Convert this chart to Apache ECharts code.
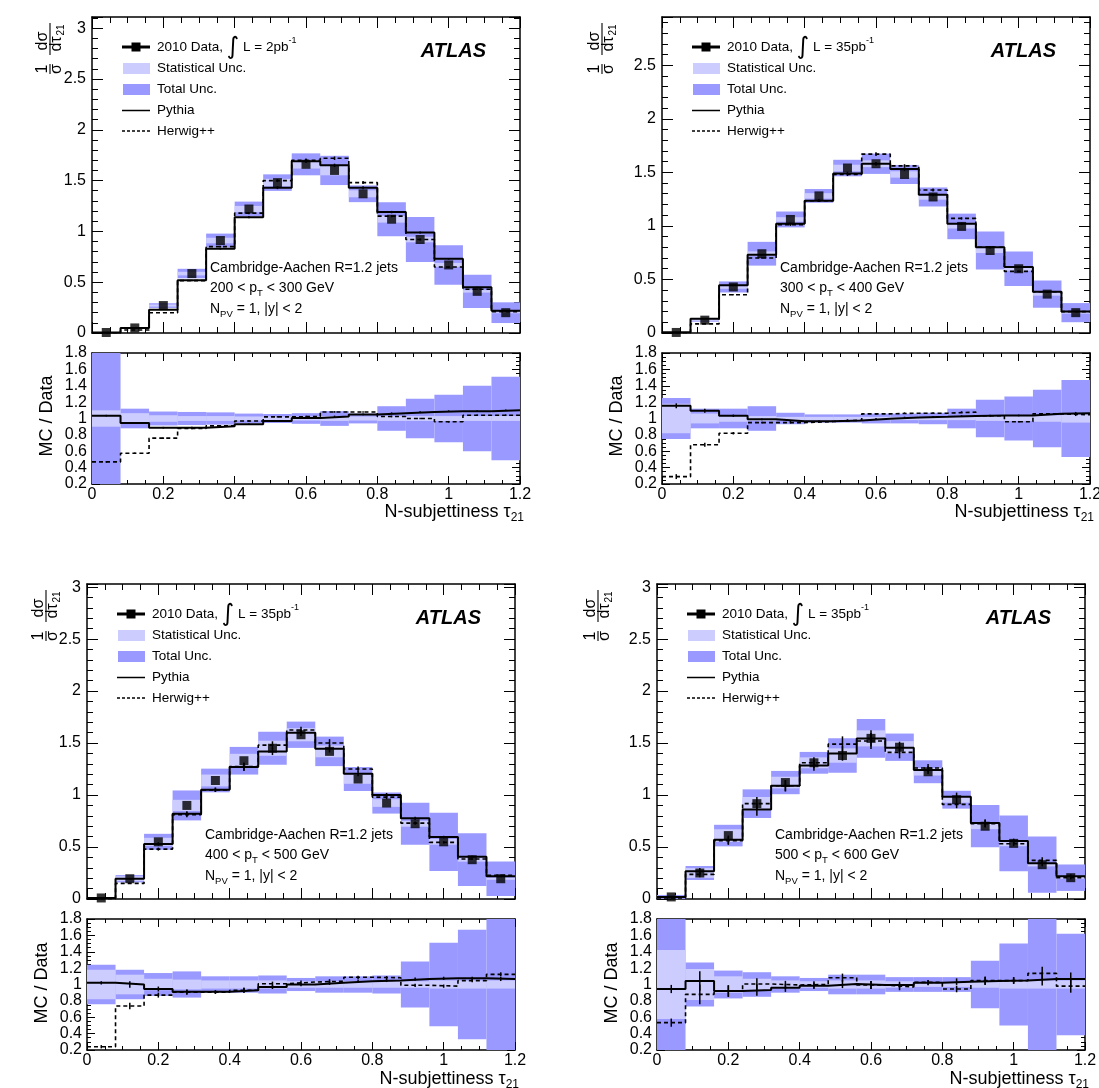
<!DOCTYPE html>
<html><head><meta charset="utf-8">
<script src="https://cdn.jsdelivr.net/npm/echarts@6/dist/echarts.min.js"></script>
<style>html,body{margin:0;padding:0;background:#fff}#c{width:1099px;height:1088px}</style>
</head><body><div id="c"></div>
<script>
// ---------------- DATA ----------------
const edges = [0, 0.08, 0.16, 0.24, 0.32, 0.40, 0.48, 0.56, 0.64, 0.72, 0.80, 0.88, 0.96, 1.04, 1.12, 1.20];
const centers = [0.04, 0.12, 0.20, 0.28, 0.36, 0.44, 0.52, 0.60, 0.68, 0.76, 0.84, 0.92, 1.00, 1.08, 1.16];
const ptRanges = ['200 < p', '300 < p', '400 < p', '500 < p'];
const ptUpper = [' < 300 GeV', ' < 400 GeV', ' < 500 GeV', ' < 600 GeV'];
const lumiLabels = [' L = 2pb', ' L = 35pb', ' L = 35pb', ' L = 35pb'];

// panel 1: 200 < pT < 300 GeV
const data1 = [0.005, 0.05, 0.27, 0.585, 0.91, 1.22, 1.48, 1.66, 1.60, 1.37, 1.12, 0.92, 0.67, 0.41, 0.20];
const pythia1 = [0.005, 0.05, 0.23, 0.52, 0.83, 1.14, 1.43, 1.69, 1.65, 1.43, 1.19, 0.99, 0.73, 0.45, 0.22];
const herwig1 = [0.003, 0.03, 0.20, 0.515, 0.85, 1.18, 1.50, 1.70, 1.72, 1.48, 1.15, 0.92, 0.65, 0.43, 0.21];
const pythiaRatio1 = [1.035, 0.945, 0.888, 0.888, 0.905, 0.93, 0.97, 1.005, 1.025, 1.05, 1.065, 1.08, 1.09, 1.09, 1.10];
const herwigRatio1 = [0.47, 0.575, 0.76, 0.88, 0.91, 0.97, 1.02, 1.025, 1.08, 1.08, 1.025, 1.0, 0.96, 1.04, 1.04];
const statUnc1 = [0.10, 0.065, 0.04, 0.03, 0.03, 0.025, 0.025, 0.025, 0.03, 0.025, 0.03, 0.03, 0.03, 0.03, 0.03];
const totUnc1 = [0.95, 0.12, 0.085, 0.08, 0.075, 0.06, 0.055, 0.065, 0.09, 0.06, 0.15, 0.24, 0.29, 0.40, 0.51];
const mcErr1 = [0.01, 0.01, 0.01, 0.01, 0.01, 0.01, 0.01, 0.01, 0.01, 0.01, 0.01, 0.01, 0.01, 0.01, 0.01];

// panel 2: 300 < pT < 400 GeV
const data2 = [0.005, 0.12, 0.43, 0.74, 1.06, 1.28, 1.54, 1.58, 1.48, 1.27, 0.995, 0.77, 0.60, 0.363, 0.19];
const pythia2 = [0.006, 0.133, 0.445, 0.73, 1.02, 1.235, 1.49, 1.58, 1.53, 1.29, 1.02, 0.80, 0.615, 0.385, 0.20];
const herwig2 = [0.002, 0.085, 0.357, 0.70, 1.01, 1.235, 1.48, 1.67, 1.56, 1.335, 1.07, 0.80, 0.575, 0.385, 0.20];
const pythiaRatio2 = [1.155, 1.094, 1.033, 0.99, 0.967, 0.967, 0.975, 0.996, 1.012, 1.02, 1.03, 1.037, 1.037, 1.057, 1.065];
const herwigRatio2 = [0.29, 0.68, 0.82, 0.95, 0.95, 0.963, 0.98, 1.057, 1.065, 1.065, 1.078, 1.033, 0.96, 1.057, 1.045];
const statUnc2 = [0.18, 0.06, 0.04, 0.03, 0.02, 0.02, 0.02, 0.02, 0.02, 0.02, 0.02, 0.03, 0.03, 0.04, 0.05];
const totUnc2 = [0.25, 0.12, 0.12, 0.15, 0.07, 0.05, 0.05, 0.06, 0.06, 0.07, 0.12, 0.23, 0.27, 0.35, 0.47];
const mcErr2 = [0.03, 0.025, 0.015, 0.01, 0.01, 0.01, 0.01, 0.01, 0.01, 0.01, 0.01, 0.01, 0.01, 0.01, 0.015];

// panel 3: 400 < pT < 500 GeV
const data3 = [0.01, 0.195, 0.55, 0.90, 1.14, 1.33, 1.45, 1.58, 1.42, 1.154, 0.923, 0.724, 0.55, 0.378, 0.195];
const pythia3 = [0.01, 0.195, 0.53, 0.82, 1.05, 1.27, 1.42, 1.60, 1.445, 1.205, 1.0, 0.776, 0.596, 0.407, 0.218];
const herwig3 = [0.003, 0.15, 0.48, 0.81, 1.05, 1.275, 1.48, 1.625, 1.50, 1.25, 0.98, 0.73, 0.545, 0.385, 0.228];
const pythiaRatio3 = [1.02, 1.0, 0.945, 0.91, 0.91, 0.93, 0.97, 1.0, 1.02, 1.04, 1.05, 1.067, 1.075, 1.075, 1.067];
const herwigRatio3 = [0.24, 0.737, 0.87, 0.905, 0.905, 0.93, 1.01, 1.03, 1.04, 1.088, 1.083, 0.99, 0.98, 1.047, 1.124];
const statUnc3 = [0.18, 0.12, 0.07, 0.06, 0.05, 0.05, 0.05, 0.04, 0.04, 0.04, 0.04, 0.04, 0.05, 0.05, 0.05];
const totUnc3 = [0.24, 0.18, 0.14, 0.16, 0.10, 0.10, 0.11, 0.08, 0.10, 0.10, 0.11, 0.28, 0.51, 0.67, 0.85];
const mcErr3 = [0.02, 0.04, 0.03, 0.03, 0.02, 0.03, 0.025, 0.02, 0.025, 0.02, 0.02, 0.02, 0.02, 0.02, 0.025];

// panel 4: 500 < pT < 600 GeV
const data4 = [0.02, 0.25, 0.61, 0.917, 1.12, 1.31, 1.38, 1.545, 1.46, 1.224, 0.955, 0.70, 0.535, 0.33, 0.205];
const pythia4 = [0.02, 0.266, 0.57, 0.86, 1.09, 1.285, 1.40, 1.545, 1.455, 1.24, 0.984, 0.73, 0.558, 0.343, 0.22];
const herwig4 = [0.01, 0.237, 0.56, 0.917, 1.09, 1.31, 1.49, 1.52, 1.41, 1.26, 0.91, 0.724, 0.532, 0.372, 0.205];
const pythiaRatio4 = [0.945, 1.043, 0.92, 0.933, 0.96, 0.985, 1.006, 0.994, 0.994, 1.022, 1.035, 1.043, 1.05, 1.067, 1.067];
const herwigRatio4 = [0.534, 0.88, 0.92, 1.006, 0.994, 1.0, 1.083, 0.994, 0.97, 1.026, 0.945, 1.047, 1.047, 1.136, 0.98];
const statUnc4 = [0.42, 0.19, 0.10, 0.07, 0.05, 0.04, 0.05, 0.05, 0.04, 0.03, 0.03, 0.04, 0.05, 0.05, 0.05];
const totUnc4 = [0.95, 0.27, 0.17, 0.15, 0.10, 0.08, 0.12, 0.12, 0.09, 0.09, 0.09, 0.29, 0.50, 0.82, 0.62];
const mcErr4 = [0.05, 0.12, 0.07, 0.07, 0.05, 0.04, 0.05, 0.05, 0.04, 0.03, 0.04, 0.05, 0.04, 0.08, 0.08];

// ---------------- LAYOUT ----------------
const FONT = '"Liberation Sans", Arial, Helvetica, sans-serif';
const TOT = '#9999ff', STAT = '#ccccff';
const panels = [
  {data: data1, py: pythia1, hw: herwig1, pyR: pythiaRatio1, hwR: herwigRatio1, stat: statUnc1, tot: totUnc1, mc: mcErr1, ymax: 3.11, ox: 0, oy: 0, mainTop: 17, mainH: 316, ratioTop: 353, ytX: 50},
  {data: data2, py: pythia2, hw: herwig2, pyR: pythiaRatio2, hwR: herwigRatio2, stat: statUnc2, tot: totUnc2, mc: mcErr2, ymax: 2.95, ox: 570, oy: 0, mainTop: 17, mainH: 316, ratioTop: 353, ytX: 602},
  {data: data3, py: pythia3, hw: herwig3, pyR: pythiaRatio3, hwR: herwigRatio3, stat: statUnc3, tot: totUnc3, mc: mcErr3, ymax: 3.03, ox: -5, oy: 567, mainTop: 584, mainH: 315, ratioTop: 919, ytX: 46},
  {data: data4, py: pythia4, hw: herwig4, pyR: pythiaRatio4, hwR: herwigRatio4, stat: statUnc4, tot: totUnc4, mc: mcErr4, ymax: 3.03, ox: 565, oy: 567, mainTop: 584, mainH: 315, ratioTop: 919, ytX: 598}
];
const PW = 428, RH = 131;

const chart = echarts.init(document.getElementById('c'), null, {renderer: 'canvas'});
const grids = [], xAxes = [], yAxes = [], series = [], graphics = [];

function xAx(g, pos, showLabel, ratio) {
  return {type: 'value', gridIndex: g, position: pos, min: 0, max: 1.2, interval: 0.2,
    axisLine: {show: true, onZero: false, lineStyle: {color: '#000', width: 1.5}},
    axisTick: {show: true, inside: true, length: ratio ? 8 : 11, lineStyle: {color: '#000', width: 1}},
    minorTick: {show: true, splitNumber: 4, length: ratio ? 4 : 6, lineStyle: {color: '#000', width: 1}},
    splitLine: {show: false}, minorSplitLine: {show: false},
    axisLabel: {show: showLabel, fontSize: 16, color: '#000', fontFamily: FONT, margin: 3,
      formatter: v => String(+v.toFixed(2))}};
}
function yMainAx(g, pos, ymax, showLabel, interval, len, line) {
  return {type: 'value', gridIndex: g, position: pos, min: 0, max: ymax, interval: interval,
    axisLine: {show: line, onZero: false, lineStyle: {color: '#000', width: 1.5}},
    axisTick: {show: true, inside: true, length: len, lineStyle: {color: '#000', width: 1}},
    minorTick: {show: false}, splitLine: {show: false},
    axisLabel: {show: showLabel, fontSize: 16, color: '#000', fontFamily: FONT, margin: 6,
      formatter: v => (Math.abs(v * 2 - Math.round(v * 2)) < 1e-6 ? String(+v.toFixed(2)) : '')}};
}
function yRatioAx(g, pos, showLabel) {
  return {type: 'value', gridIndex: g, position: pos, min: 0.2, max: 1.8, interval: 0.2,
    axisLine: {show: true, onZero: false, lineStyle: {color: '#000', width: 1.5}},
    axisTick: {show: true, inside: true, length: 8, lineStyle: {color: '#000', width: 1}},
    minorTick: {show: true, splitNumber: 4, length: 4, lineStyle: {color: '#000', width: 1}},
    splitLine: {show: false}, minorSplitLine: {show: false},
    axisLabel: {show: showLabel, fontSize: 16, color: '#000', fontFamily: FONT, margin: 5,
      formatter: v => String(+v.toFixed(2))}};
}

function rectRender(color) {
  return function (params, api) {
    const a = api.coord([api.value(0), api.value(3)]);
    const b = api.coord([api.value(1), api.value(2)]);
    const cs = params.coordSys;
    const r = echarts.graphic.clipRectByRect(
      {x: a[0], y: a[1], width: b[0] - a[0], height: b[1] - a[1]},
      {x: cs.x, y: cs.y, width: cs.width, height: cs.height});
    if (!r) return null;
    return {type: 'rect', shape: r, style: {fill: color}};
  };
}
function barRender(params, api) {
  const a = api.coord([api.value(0), api.value(1)]);
  const b = api.coord([api.value(0), api.value(2)]);
  return {type: 'line', shape: {x1: a[0], y1: a[1], x2: b[0], y2: b[1]}, style: {stroke: '#000', lineWidth: 1.5}};
}
function stepData(vals) {
  return edges.map((e, i) => [e, vals[Math.min(i, vals.length - 1)]]);
}
function stepSeries(xi, yi, vals, dashed) {
  return {type: 'line', step: 'end', xAxisIndex: xi, yAxisIndex: yi, data: stepData(vals),
    symbol: 'none', showSymbol: false, animation: false, silent: true, z: 4, clip: true,
    lineStyle: {color: '#000', width: dashed ? 1.6 : 2, type: dashed ? [4, 3] : 'solid'}};
}
function customSeries(xi, yi, items, render, z) {
  return {type: 'custom', xAxisIndex: xi, yAxisIndex: yi, data: items, renderItem: render,
    encode: {x: [0], y: [1]}, animation: false, silent: true, z: z, clip: true};
}

// text helper
const mctx = document.createElement('canvas').getContext('2d');
function tw(t, s, fam, w, st) {
  mctx.font = `${st || 'normal'} ${w || 'normal'} ${s}px ${fam || FONT}`;
  return mctx.measureText(t).width;
}
function addText(pieces, x, y, align) {
  let total = 0;
  pieces.forEach(p => { p.w = tw(p.t, p.s, p.f, p.wt, p.st); total += p.w; });
  let cx = align === 'right' ? x - total : x;
  pieces.forEach(p => {
    graphics.push({type: 'text', x: cx, y: y + (p.dy || 0), silent: true,
      style: {text: p.t, fontSize: p.s, fontFamily: p.f || FONT, fontWeight: p.wt || 'normal', fontStyle: p.st || 'normal',
        fill: '#000', align: 'left', verticalAlign: 'middle'}});
    cx += p.w;
  });
}

panels.forEach((P, p) => {
  const L = 92 + P.ox;
  const gm = grids.length; grids.push({left: L, top: P.mainTop, width: PW, height: P.mainH, containLabel: false, outerBoundsMode: 'none'});
  const gr = grids.length; grids.push({left: L, top: P.ratioTop, width: PW, height: RH, containLabel: false, outerBoundsMode: 'none'});
  const xm = xAxes.length; xAxes.push(xAx(gm, 'bottom', false, false), xAx(gm, 'top', false, false));
  const xr = xAxes.length; xAxes.push(xAx(gr, 'bottom', true, true), xAx(gr, 'top', false, true));
  const ym = yAxes.length;
  yAxes.push(yMainAx(gm, 'left', P.ymax, true, 0.5, 11, true), yMainAx(gm, 'right', P.ymax, false, 0.5, 11, true),
             yMainAx(gm, 'left', P.ymax, false, 0.1, 6, false), yMainAx(gm, 'right', P.ymax, false, 0.1, 6, false));
  const yr = yAxes.length; yAxes.push(yRatioAx(gr, 'left', true), yRatioAx(gr, 'right', false));

  // main plot
  series.push(customSeries(xm, ym, centers.map((c, i) => [edges[i], edges[i + 1], P.data[i] * (1 - P.tot[i]), P.data[i] * (1 + P.tot[i])]), rectRender(TOT), 1));
  series.push(customSeries(xm, ym, centers.map((c, i) => [edges[i], edges[i + 1], P.data[i] * (1 - P.stat[i]), P.data[i] * (1 + P.stat[i])]), rectRender(STAT), 2));
  series.push(stepSeries(xm, ym, P.py, false));
  series.push(stepSeries(xm, ym, P.hw, true));
  series.push(customSeries(xm, ym, centers.map((c, i) => [c, P.py[i] * (1 - P.mc[i]), P.py[i] * (1 + P.mc[i])]), barRender, 5));
  series.push(customSeries(xm, ym, centers.map((c, i) => [c, P.hw[i] * (1 - P.mc[i]), P.hw[i] * (1 + P.mc[i])]), barRender, 5));
  series.push({type: 'scatter', xAxisIndex: xm, yAxisIndex: ym, symbol: 'rect', symbolSize: 9, animation: false, silent: true, z: 6,
    itemStyle: {color: '#000'}, data: centers.map((c, i) => [c, P.data[i]])});

  // ratio plot
  series.push(customSeries(xr, yr, centers.map((c, i) => [edges[i], edges[i + 1], 1 - P.tot[i], 1 + P.tot[i]]), rectRender(TOT), 1));
  series.push(customSeries(xr, yr, centers.map((c, i) => [edges[i], edges[i + 1], 1 - P.stat[i], 1 + P.stat[i]]), rectRender(STAT), 2));
  series.push(stepSeries(xr, yr, P.pyR, false));
  series.push(stepSeries(xr, yr, P.hwR, true));
  series.push(customSeries(xr, yr, centers.map((c, i) => [c, P.pyR[i] - P.mc[i], P.pyR[i] + P.mc[i]]), barRender, 5));
  series.push(customSeries(xr, yr, centers.map((c, i) => [c, P.hwR[i] - P.mc[i], P.hwR[i] + P.mc[i]]), barRender, 5));

  // ----- texts -----
  const ox = P.ox, oy = P.oy;
  const r = [47, 68.5, 89.5, 110.5, 131].map(v => v + oy);
  const tx = 157 + ox;
  graphics.push({type: 'line', shape: {x1: 122 + ox, y1: r[0], x2: 150 + ox, y2: r[0]}, style: {stroke: '#000', lineWidth: 3}, silent: true});
  graphics.push({type: 'rect', shape: {x: 131.5 + ox, y: r[0] - 4.5, width: 9, height: 9}, style: {fill: '#000'}, silent: true});
  addText([{t: '2010 Data, ', s: 13.5}, {t: '\u222B', s: 24, f: '"DejaVu Sans"', dy: 1}, {t: lumiLabels[p], s: 13.5}, {t: '-1', s: 9, dy: -6}], tx, r[0]);
  graphics.push({type: 'rect', shape: {x: 123 + ox, y: r[1] - 5.5, width: 27, height: 11}, style: {fill: STAT}, silent: true});
  addText([{t: 'Statistical Unc.', s: 13.5}], tx, r[1]);
  graphics.push({type: 'rect', shape: {x: 123 + ox, y: r[2] - 5.5, width: 27, height: 11}, style: {fill: TOT}, silent: true});
  addText([{t: 'Total Unc.', s: 13.5}], tx, r[2]);
  graphics.push({type: 'line', shape: {x1: 122 + ox, y1: r[3], x2: 150 + ox, y2: r[3]}, style: {stroke: '#000', lineWidth: 1.5}, silent: true});
  addText([{t: 'Pythia', s: 13.5}], tx, r[3]);
  graphics.push({type: 'line', shape: {x1: 122 + ox, y1: r[4], x2: 150 + ox, y2: r[4]}, style: {stroke: '#000', lineWidth: 1.3, lineDash: [3, 2]}, silent: true});
  addText([{t: 'Herwig++', s: 13.5}], tx, r[4]);
  addText([{t: 'ATLAS', s: 20, wt: 'bold', st: 'italic'}], 486 + ox, 51 + oy, 'right');
  addText([{t: 'Cambridge-Aachen R=1.2 jets', s: 14}], 210 + ox, 268 + oy);
  addText([{t: ptRanges[p], s: 14}, {t: 'T', s: 9.5, dy: 5}, {t: ptUpper[p], s: 14}], 210 + ox, 288.5 + oy);
  addText([{t: 'N', s: 14}, {t: 'PV', s: 9.5, dy: 5}, {t: ' = 1, |y| < 2', s: 14}], 210 + ox, 309 + oy);
  addText([{t: 'N-subjettiness \u03C4', s: 18}, {t: '21', s: 12, dy: 6}], 524 + ox, 512 + oy, 'right');
  graphics.push({type: 'text', x: 47 + ox, y: 416 + oy, rotation: Math.PI / 2, silent: true,
    style: {text: 'MC / Data', fontSize: 18, fontFamily: FONT, fill: '#000', align: 'center', verticalAlign: 'middle'}});
  // y title fraction (rotated group)
  const fs = 16;
  const T = (t, x, y, s) => ({type: 'text', x: x, y: y, style: {text: t, fontSize: s || fs, fontFamily: FONT, fill: '#000', align: 'center', verticalAlign: 'middle'}});
  graphics.push({type: 'group', x: P.ytX, y: 46 + oy, rotation: Math.PI / 2, silent: true, children: [
    T('1', -23, -7.5), T('\u03C3', -23, 7),
    {type: 'line', shape: {x1: -28, y1: 0, x2: -18, y2: 0}, style: {stroke: '#000', lineWidth: 1.1}},
    T('d\u03C3', 5, -7.5), T('d\u03C4', 2, 7), T('21', 16, 11, 10),
    {type: 'line', shape: {x1: -9, y1: 0, x2: 23, y2: 0}, style: {stroke: '#000', lineWidth: 1.1}}
  ]});
});

chart.setOption({
  animation: false,
  backgroundColor: '#fff',
  textStyle: {fontFamily: FONT},
  grid: grids, xAxis: xAxes, yAxis: yAxes, series: series, graphic: {elements: graphics}
});
</script></body></html>
